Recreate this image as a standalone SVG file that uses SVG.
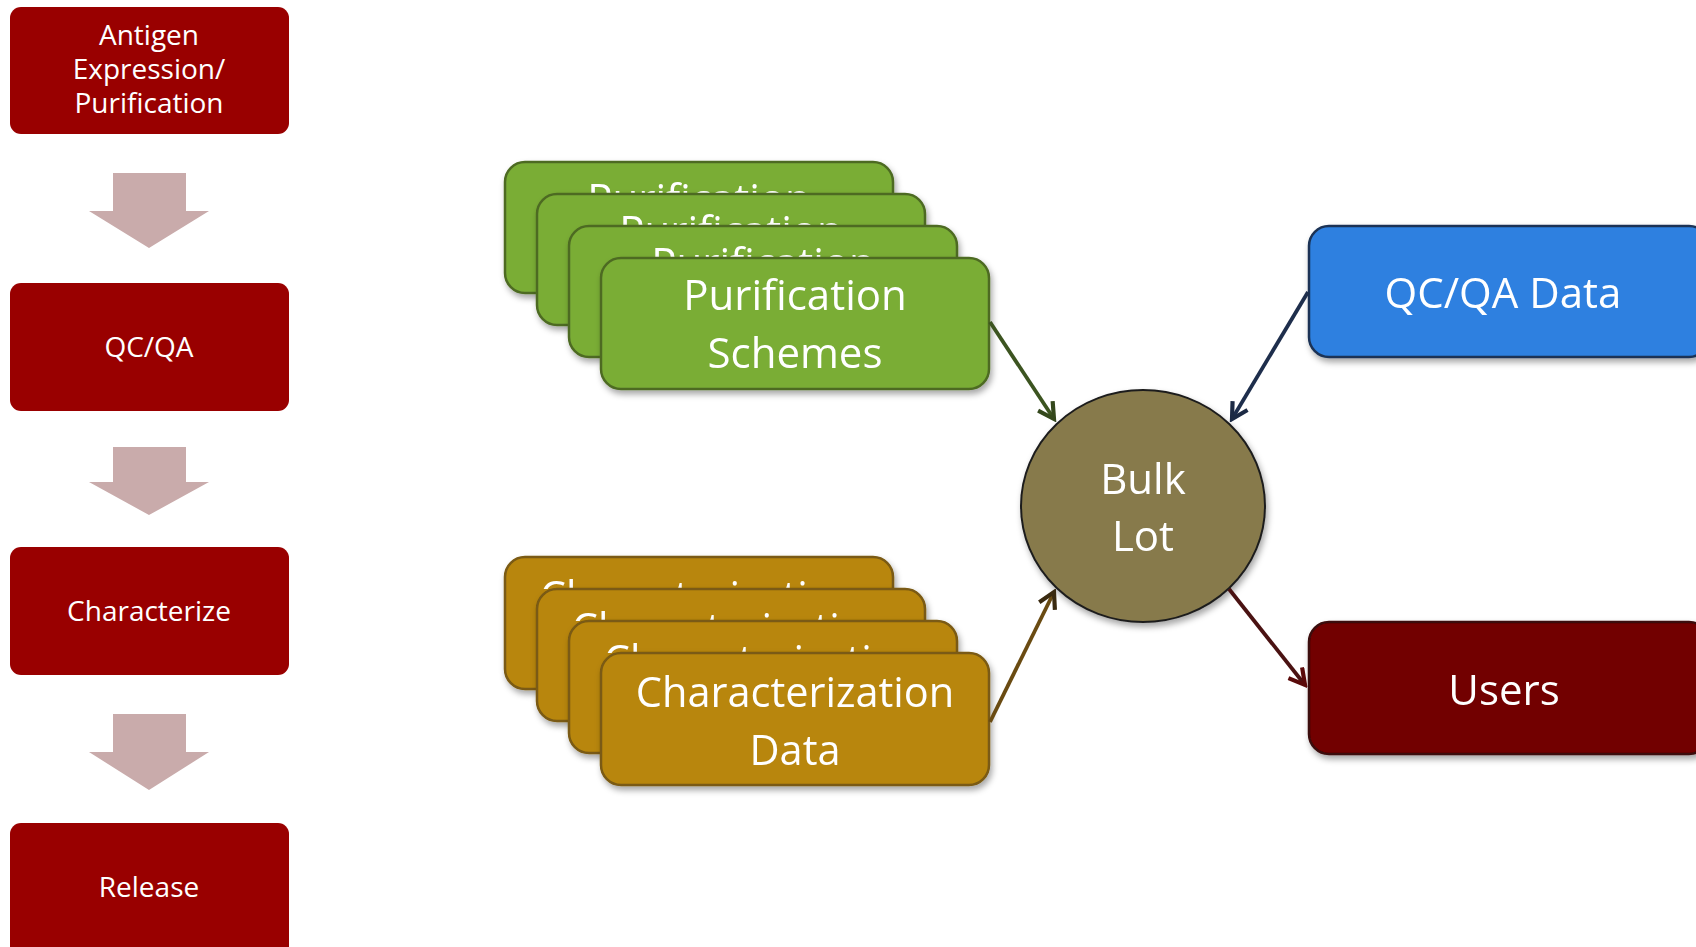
<svg xmlns="http://www.w3.org/2000/svg" width="1696" height="947" viewBox="0 0 1696 947">
<style>
.step{fill:#990000;}
.blk{fill:#C9ABAB;}
.t{font-family:"Open Sans","Liberation Sans",sans-serif;fill:#FFFFFF;text-anchor:middle;}
.ts{font-size:28px;}
.tl{font-size:42px;}
.tc{font-size:41.5px;}
.green{fill:#7AAD36;stroke:#4D6B22;stroke-width:2.5;}
.tan{fill:#B8860F;stroke:#7A5A12;stroke-width:2.5;}
.conn{fill:none;stroke-width:3.8;}
</style>
<defs>
<filter id="sh" x="-10%" y="-10%" width="130%" height="140%">
<feDropShadow dx="2" dy="4" stdDeviation="3" flood-color="#000" flood-opacity="0.35"/>
</filter>
<clipPath id="cg1"><rect x="505" y="162" width="388" height="32"/></clipPath>
<clipPath id="cg2"><rect x="537" y="194" width="388" height="32"/></clipPath>
<clipPath id="cg3"><rect x="569" y="226" width="388" height="32"/></clipPath>
<clipPath id="ct1"><rect x="505" y="557" width="388" height="32"/></clipPath>
<clipPath id="ct2"><rect x="537" y="589" width="388" height="32"/></clipPath>
<clipPath id="ct3"><rect x="569" y="621" width="388" height="32"/></clipPath>
<marker id="aG" viewBox="0 0 12 12" refX="10" refY="6" markerWidth="5.5" markerHeight="5.5" orient="auto" markerUnits="strokeWidth"><path d="M1,1 L10,6 L1,11" fill="none" stroke="#34481C" stroke-width="2.4"/></marker>
<marker id="aT" viewBox="0 0 12 12" refX="10" refY="6" markerWidth="5.5" markerHeight="5.5" orient="auto" markerUnits="strokeWidth"><path d="M1,1 L10,6 L1,11" fill="none" stroke="#3A2A10" stroke-width="2.4"/></marker>
<marker id="aB" viewBox="0 0 12 12" refX="10" refY="6" markerWidth="5.5" markerHeight="5.5" orient="auto" markerUnits="strokeWidth"><path d="M1,1 L10,6 L1,11" fill="none" stroke="#1C2A44" stroke-width="2.4"/></marker>
<marker id="aR" viewBox="0 0 12 12" refX="10" refY="6" markerWidth="5.5" markerHeight="5.5" orient="auto" markerUnits="strokeWidth"><path d="M1,1 L10,6 L1,11" fill="none" stroke="#5A0A0A" stroke-width="2.4"/></marker>
</defs>
<rect width="1696" height="947" fill="#FFFFFF"/>

<g id="step-antigen">
<rect class="step" x="10" y="7" width="279" height="127" rx="11"/>
<text class="t ts" x="149" y="45">Antigen</text>
<text class="t ts" x="149" y="79">Expression/</text>
<text class="t ts" x="149" y="113">Purification</text>
</g>
<g id="arrow-1"><polygon class="blk" points="113,173 186,173 186,211 209,211 149,248 89,211 113,211"/></g>
<g id="step-qcqa">
<rect class="step" x="10" y="283" width="279" height="128" rx="11"/>
<text class="t ts" x="149" y="357">QC/QA</text>
</g>
<g id="arrow-2"><polygon class="blk" points="113,447 186,447 186,482 209,482 149,515 89,482 113,482"/></g>
<g id="step-characterize">
<rect class="step" x="10" y="547" width="279" height="128" rx="11"/>
<text class="t ts" x="149" y="621">Characterize</text>
</g>
<g id="arrow-3"><polygon class="blk" points="113,714 186,714 186,752 209,752 149,790 89,752 113,752"/></g>
<g id="step-release">
<rect class="step" x="10" y="823" width="279" height="145" rx="11"/>
<text class="t ts" x="149" y="897">Release</text>
</g>

<g id="purification-stack">
<g filter="url(#sh)">
<rect class="green" x="505" y="162" width="388" height="131" rx="20"/>
<text class="t tl" x="699" y="214" clip-path="url(#cg1)">Purification</text>
</g>
<g filter="url(#sh)">
<rect class="green" x="537" y="194" width="388" height="131" rx="20"/>
<text class="t tl" x="731" y="246" clip-path="url(#cg2)">Purification</text>
</g>
<g filter="url(#sh)">
<rect class="green" x="569" y="226" width="388" height="131" rx="20"/>
<text class="t tl" x="763" y="278" clip-path="url(#cg3)">Purification</text>
</g>
<g filter="url(#sh)">
<rect class="green" x="601" y="258" width="388" height="131" rx="20"/>
<text class="t tl" x="795" y="310">Purification</text>
<text class="t tl" x="795" y="368">Schemes</text>
</g>
</g>

<g id="characterization-stack">
<g filter="url(#sh)">
<rect class="tan" x="505" y="557" width="388" height="132" rx="20"/>
<text class="t tc" x="699" y="611" clip-path="url(#ct1)">Characterization</text>
</g>
<g filter="url(#sh)">
<rect class="tan" x="537" y="589" width="388" height="132" rx="20"/>
<text class="t tc" x="731" y="643" clip-path="url(#ct2)">Characterization</text>
</g>
<g filter="url(#sh)">
<rect class="tan" x="569" y="621" width="388" height="132" rx="20"/>
<text class="t tc" x="763" y="675" clip-path="url(#ct3)">Characterization</text>
</g>
<g filter="url(#sh)">
<rect class="tan" x="601" y="653" width="388" height="132" rx="20"/>
<text class="t tc" x="795" y="707">Characterization</text>
<text class="t tc" x="795" y="765">Data</text>
</g>
</g>

<g id="bulk-lot" filter="url(#sh)">
<ellipse cx="1143" cy="506" rx="122" ry="116" fill="#877A4C" stroke="#1E1E1E" stroke-width="2"/>
<text class="t tl" x="1143" y="494">Bulk</text>
<text class="t tl" x="1143" y="551">Lot</text>
</g>

<g id="qcqa-data" filter="url(#sh)">
<rect x="1309" y="226" width="400" height="131" rx="20" fill="#2E80E0" stroke="#1B3355" stroke-width="2.5"/>
<text class="t tl" x="1503" y="308">QC/QA Data</text>
</g>

<g id="users" filter="url(#sh)">
<rect x="1309" y="622" width="400" height="132" rx="20" fill="#720000" stroke="#3A0A0A" stroke-width="2.5"/>
<text class="t tl" x="1504" y="705">Users</text>
</g>

<g id="connectors">
<line class="conn" x1="990" y1="322" x2="1054" y2="419" stroke="#3C5420" marker-end="url(#aG)"/>
<line class="conn" x1="990" y1="722" x2="1054" y2="592" stroke="#6A4B12" marker-end="url(#aT)"/>
<line class="conn" x1="1308" y1="292" x2="1232" y2="419" stroke="#1E2E4C" marker-end="url(#aB)"/>
<line class="conn" x1="1229" y1="589" x2="1305" y2="685" stroke="#4A1212" marker-end="url(#aR)"/>
</g>
</svg>
